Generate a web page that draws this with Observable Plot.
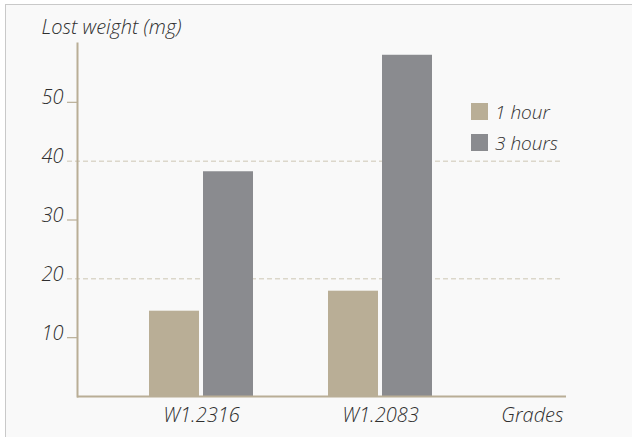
<!DOCTYPE html>
<html>
<head>
<meta charset="utf-8">
<script src="https://cdn.jsdelivr.net/npm/d3@7"></script>
<script src="https://cdn.jsdelivr.net/npm/@observablehq/plot@0.6"></script>
<style>
  html, body { margin: 0; padding: 0; background: #ffffff; }
  #frame { position: absolute; left: 5px; top: 4px; width: 700px; height: 520px;
           border: 1.5px solid #c9c9c9; background: #f9f9f9; }
  #chart { position: absolute; left: 0; top: 0; }
  #legend { position: absolute; left: 471px; top: 96px; font-family: "Open Sans", sans-serif;
            font-style: italic; font-weight: 300; font-size: 19px; color: #333; }
  #legend .row { display: flex; align-items: center; height: 31px; }
  #legend .sw { width: 17px; height: 17px; margin-right: 7px; }
</style>
</head>
<body>
<div id="frame"></div>
<div id="chart"></div>
<div id="legend"></div>
<script>
const grades = ["W1.2316", "W1.2083"];
const series = ["1 hour", "3 hours"];
const oneHour = [14.5, 17.9];
const threeHours = [38.2, 58.0];
const yTicks = [10, 20, 30, 40, 50];
const tickOnly = [10, 30, 50];
const gridValues = [20, 40];
const colors = ["#b9ae96", "#8a8b8f"];
const yLabel = "Lost weight (mg)";
const xLabel = "Grades";

const rows1 = grades.map((g, i) => ({grade: g, series: series[0], value: oneHour[i]}));
const rows3 = grades.map((g, i) => ({grade: g, series: series[1], value: threeHours[i]}));

const axisColor = "#b9ae96";
const textColor = "#2f2f2f";
const fs = 20;

const chart = Plot.plot({
  width: 632,
  height: 437,
  marginLeft: 77,
  marginRight: 66,
  marginTop: 43,
  marginBottom: 41,
  style: {background: "transparent", fontFamily: "Open Sans, sans-serif", fontStyle: "italic", fontWeight: 300, fontSize: fs + "px", color: textColor},
  x: {domain: grades, paddingInner: 0.419, paddingOuter: 0.5754, align: 0.3495, axis: null},
  y: {domain: [0, 60], axis: null},
  color: {domain: series, range: colors},
  marks: [
    Plot.ruleY(gridValues, {stroke: "#cdc6b4", strokeWidth: 1, strokeDasharray: "5,3", insetLeft: -10, insetRight: 6}),
    Plot.barY(rows1, {x: "grade", y: "value", fill: "series", insetRight: 54, insetLeft: 0}),
    Plot.barY(rows3, {x: "grade", y: "value", fill: "series", insetLeft: 54, insetRight: 0}),
    Plot.axisY({ticks: tickOnly, tickSize: 10, tickFormat: () => "", stroke: axisColor, strokeWidth: 1.2, label: null}),
    Plot.axisY({ticks: yTicks, tickSize: 0, tickPadding: 14, lineAnchor: "bottom", dy: 2, fontSize: fs, fill: textColor, label: null}),
    Plot.axisX({tickSize: 0, tickPadding: 11, fontSize: fs, fill: textColor, label: null}),
    Plot.frame({anchor: "left", stroke: axisColor, strokeWidth: 2}),
    Plot.ruleY([0], {stroke: axisColor, strokeWidth: 2}),
    Plot.text([xLabel], {text: d => d, frameAnchor: "bottom-right", textAnchor: "end", lineAnchor: "top", dy: 11, dx: -3, fontSize: fs, fill: textColor}),
    Plot.text([yLabel], {text: d => d, frameAnchor: "top-left", textAnchor: "start", lineAnchor: "bottom", dx: -36, dy: -10, fontSize: fs, fill: textColor})
  ]
});
document.getElementById("chart").appendChild(chart);

const legend = document.getElementById("legend");
series.forEach((s, i) => {
  const row = document.createElement("div");
  row.className = "row";
  const sw = document.createElement("div");
  sw.className = "sw";
  sw.style.background = colors[i];
  const t = document.createElement("span");
  t.textContent = s;
  row.appendChild(sw);
  row.appendChild(t);
  legend.appendChild(row);
});
</script>
</body>
</html>
